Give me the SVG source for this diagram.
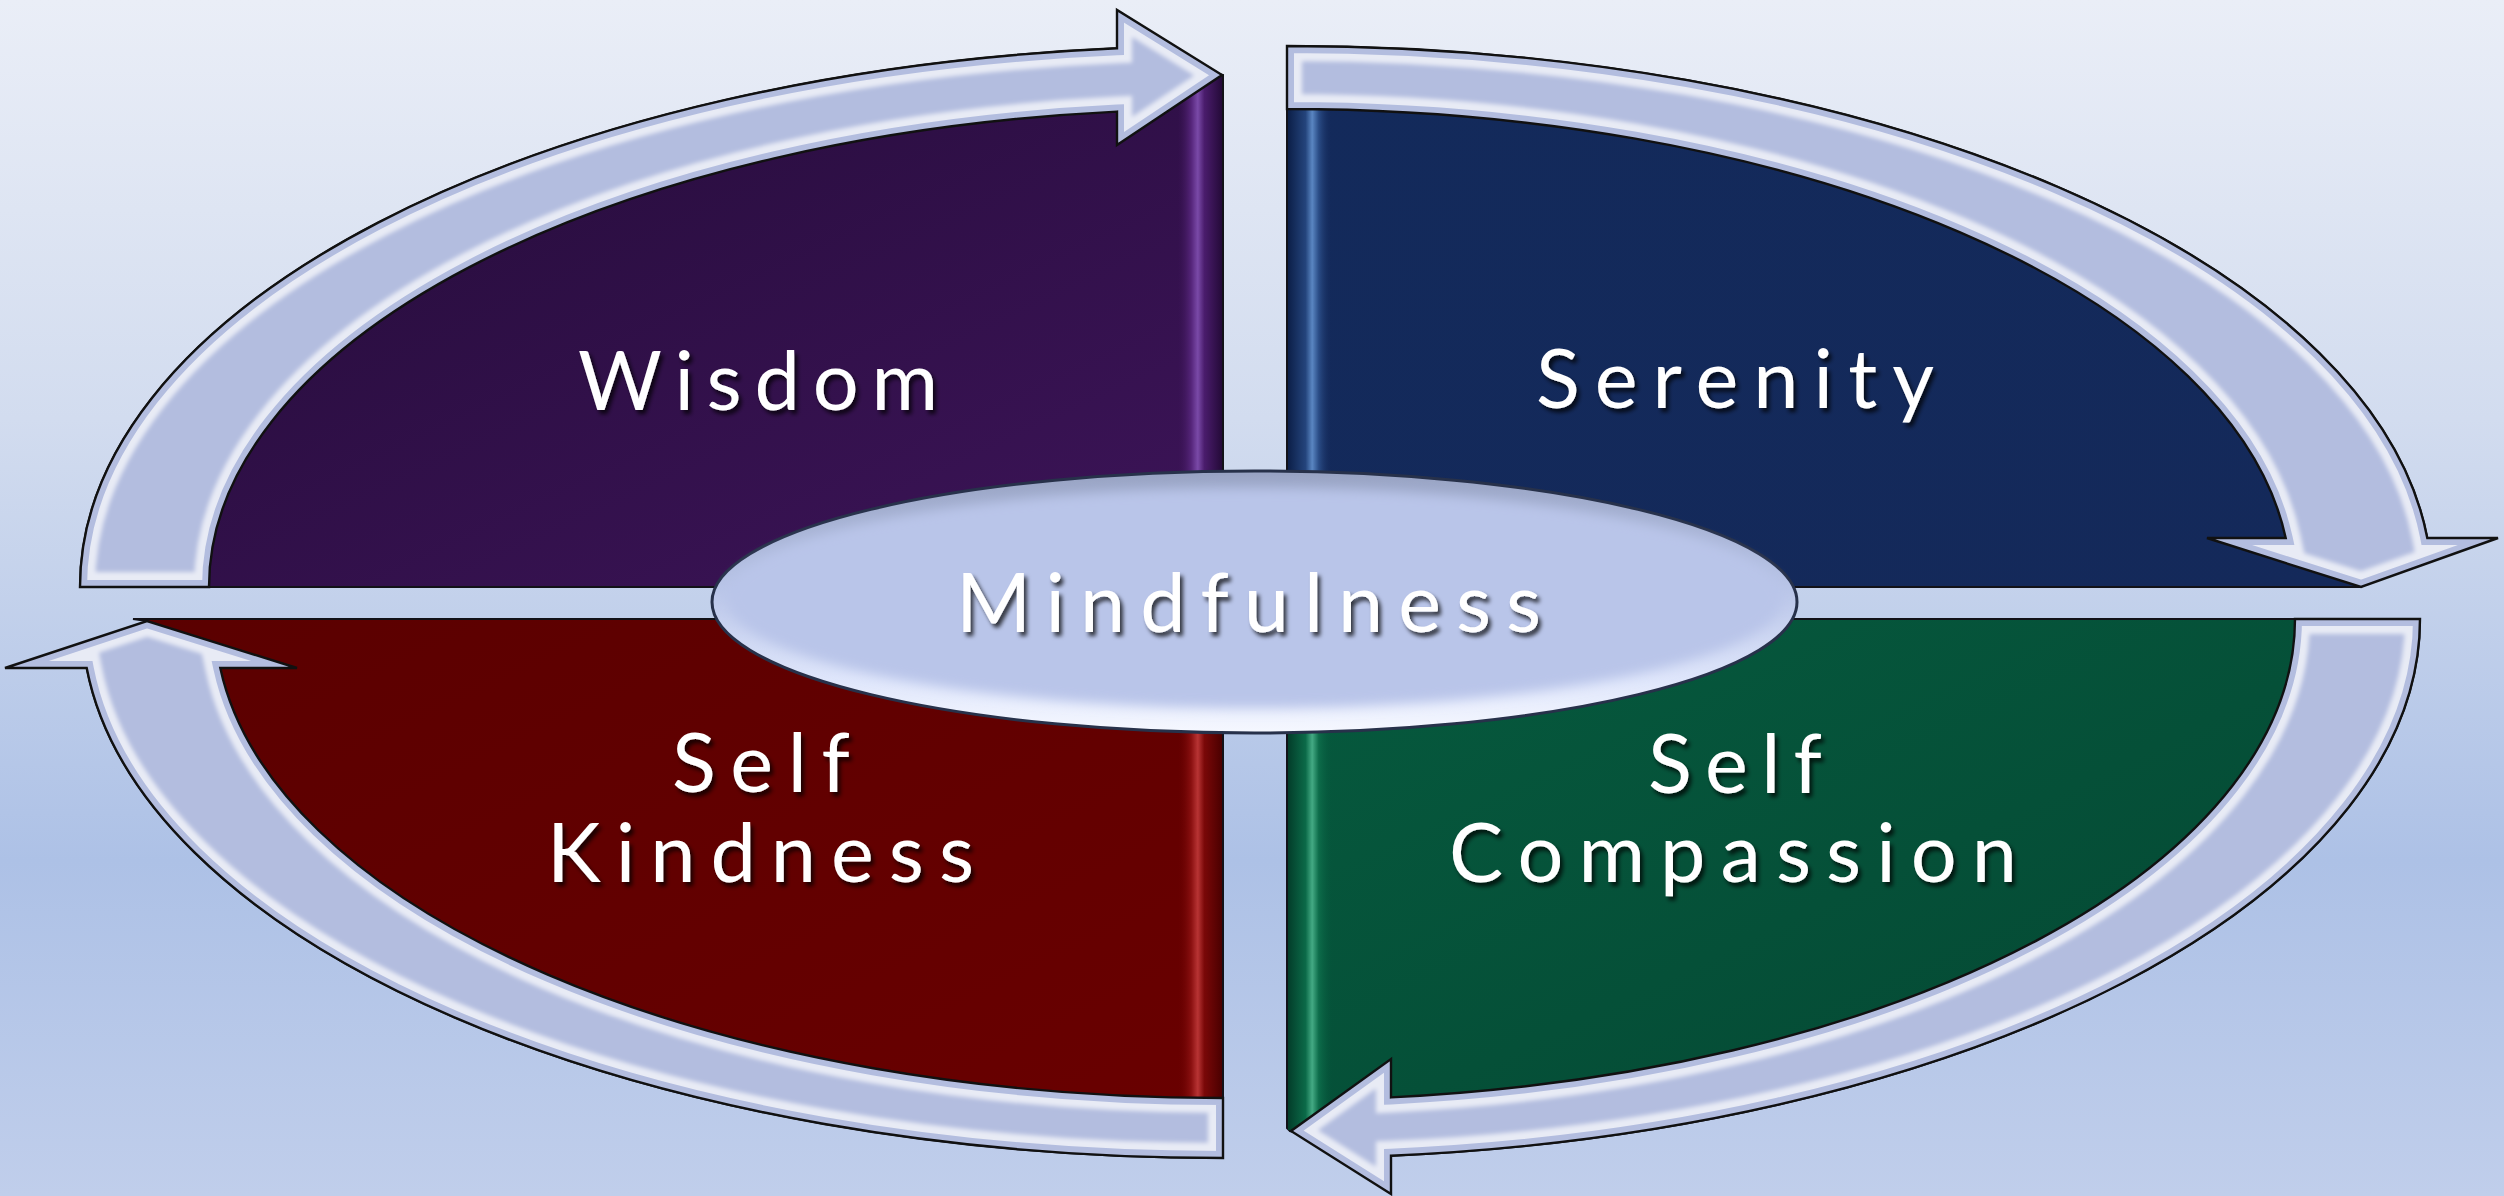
<svg xmlns="http://www.w3.org/2000/svg" xmlns:xlink="http://www.w3.org/1999/xlink" width="2504" height="1196" viewBox="0 0 2504 1196">
<style>
.lbl{font-family:Lato,"Open Sans","Liberation Sans",sans-serif;font-size:81px;fill:#ffffff;text-anchor:middle;filter:url(#tshadow)}
.band{fill:#b3bddf}
.bandline{fill:none;stroke:#111111;stroke-width:2.4;stroke-linejoin:miter}
.quad{stroke:#121218;stroke-width:2}
.hl{fill:none;stroke:#ffffff;stroke-opacity:.7;stroke-width:30}
.edge{fill:none;stroke:#b3bddf;stroke-width:14}
</style>
<defs>
<linearGradient id="bg" x1="0" y1="0" x2="0" y2="1">
<stop offset="0" stop-color="#eaeef7"/>
<stop offset="0.35" stop-color="#d2dcef"/>
<stop offset="0.72" stop-color="#adc1e6"/>
<stop offset="1" stop-color="#c0ceeb"/>
</linearGradient>
<linearGradient id="gPurple" x1="0" y1="0" x2="1" y2="1">
<stop offset="0" stop-color="#220b36"/>
<stop offset="1" stop-color="#3d1459"/>
</linearGradient>
<linearGradient id="gBlue" x1="0" y1="0" x2="1" y2="1">
<stop offset="0" stop-color="#132a5b"/>
<stop offset="1" stop-color="#14295a"/>
</linearGradient>
<linearGradient id="gRed" x1="0" y1="0" x2="1" y2="1">
<stop offset="0" stop-color="#5a0000"/>
<stop offset="1" stop-color="#6a0000"/>
</linearGradient>
<linearGradient id="gGreen" x1="0" y1="0" x2="1" y2="1">
<stop offset="0" stop-color="#065a3e"/>
<stop offset="1" stop-color="#044632"/>
</linearGradient>
<linearGradient id="sPurple" x1="0" y1="0" x2="1" y2="0">
<stop offset="0" stop-color="#3d1459" stop-opacity="0"/>
<stop offset="0.3" stop-color="#55257a"/>
<stop offset="0.45" stop-color="#7a4aa8"/>
<stop offset="0.6" stop-color="#4a1c6c"/>
<stop offset="1" stop-color="#240a38"/>
</linearGradient>
<linearGradient id="sRed" x1="0" y1="0" x2="1" y2="0">
<stop offset="0" stop-color="#6a0000" stop-opacity="0"/>
<stop offset="0.3" stop-color="#8a1010"/>
<stop offset="0.45" stop-color="#b83434"/>
<stop offset="0.6" stop-color="#7a0808"/>
<stop offset="1" stop-color="#4a0000"/>
</linearGradient>
<linearGradient id="sBlue" x1="0" y1="0" x2="1" y2="0">
<stop offset="0" stop-color="#0c1f48"/>
<stop offset="0.4" stop-color="#24447c"/>
<stop offset="0.55" stop-color="#5a86c2"/>
<stop offset="0.7" stop-color="#2a4c86"/>
<stop offset="1" stop-color="#14295a" stop-opacity="0"/>
</linearGradient>
<linearGradient id="sGreen" x1="0" y1="0" x2="1" y2="0">
<stop offset="0" stop-color="#033d2a"/>
<stop offset="0.4" stop-color="#0b6a48"/>
<stop offset="0.55" stop-color="#44aa84"/>
<stop offset="0.7" stop-color="#0d6c4a"/>
<stop offset="1" stop-color="#065a3e" stop-opacity="0"/>
</linearGradient>
<linearGradient id="ellRim" x1="0" y1="0" x2="0" y2="1">
<stop offset="0" stop-color="#98a3c3"/>
<stop offset="0.45" stop-color="#b9c5e8"/>
<stop offset="0.8" stop-color="#dfe6fb"/>
<stop offset="1" stop-color="#f6f8ff"/>
</linearGradient>
<filter id="tshadow" x="-10%" y="-20%" width="120%" height="150%">
<feDropShadow dx="3" dy="4" stdDeviation="2" flood-color="#000000" flood-opacity="0.75"/>
</filter>
<filter id="soft" x="-5%" y="-20%" width="110%" height="140%">
<feGaussianBlur stdDeviation="6"/>
</filter>
<filter id="blur2" x="-5%" y="-5%" width="110%" height="110%">
<feGaussianBlur stdDeviation="2"/>
</filter>
<path id="aTL" d="M80,587 A1143,541 0 0 1 1117,48.3 L1117,10 L1222,75 L1117,145 L1117,111.6 A1014,478 0 0 0 209,587 Z"/>
<path id="aTR" d="M1287,46 A1145,541 0 0 1 2427.3,538 L2498,538 L2361,587 L2207,538 L2285.7,538 A1004,478 0 0 0 1287,109 Z"/>
<path id="aBR" d="M2420,619 A1133,539 0 0 1 1391,1155.7 L1391,1194 L1291,1131 L1391,1059 L1391,1097.4 A1008,481 0 0 0 2295,619 Z"/>
<path id="aBL" d="M1223,1158 A1141,539 0 0 1 86.7,668 L5,668 L147,621 L297,668 L220.3,668 A1008,479 0 0 0 1223,1098 Z"/>
<clipPath id="cTL"><use xlink:href="#aTL"/></clipPath>
<clipPath id="cTR"><use xlink:href="#aTR"/></clipPath>
<clipPath id="cBR"><use xlink:href="#aBR"/></clipPath>
<clipPath id="cBL"><use xlink:href="#aBL"/></clipPath>
</defs>

<rect x="0" y="0" width="2504" height="1196" fill="url(#bg)"/>

<g id="wisdom">
<path class="quad" fill="url(#gPurple)" d="M80,587 A1143,541 0 0 1 1117,48.3 L1223,75 L1223,587 Z"/>
<rect x="1178" y="76" width="44" height="510" fill="url(#sPurple)"/>
<text class="lbl" x="758" y="410" textLength="360" lengthAdjust="spacing">Wisdom</text>
</g>

<g id="serenity">
<path class="quad" fill="url(#gBlue)" d="M1287,46 A1145,541 0 0 1 2427.3,538 L2361,587 L1287,587 Z"/>
<rect x="1288" y="100" width="44" height="486" fill="url(#sBlue)"/>
<text class="lbl" x="1735" y="408" textLength="398" lengthAdjust="spacing">Serenity</text>
</g>

<g id="self-compassion">
<path class="quad" fill="url(#gGreen)" d="M1287,619 L2420,619 A1133,539 0 0 1 1391,1155.7 L1290,1131 L1287,1128 Z"/>
<rect x="1288" y="620" width="44" height="510" fill="url(#sGreen)"/>
<text class="lbl" x="1735" y="793" textLength="174" lengthAdjust="spacing">Self</text>
<text class="lbl" x="1733" y="882" textLength="568" lengthAdjust="spacing">Compassion</text>
</g>

<g id="self-kindness">
<path class="quad" fill="url(#gRed)" d="M1223,619 L1223,1158 A1141,539 0 0 1 86.7,668 L147,621 L133,619 Z"/>
<rect x="1178" y="620" width="44" height="480" fill="url(#sRed)"/>
<text class="lbl" x="761" y="792" textLength="178" lengthAdjust="spacing">Self</text>
<text class="lbl" x="760.5" y="882" textLength="427" lengthAdjust="spacing">Kindness</text>
</g>

<g id="connectors">
<g id="arrow-tl">
<use xlink:href="#aTL" class="band"/>
<g clip-path="url(#cTL)"><use xlink:href="#aTL" class="hl" filter="url(#blur2)"/><use xlink:href="#aTL" class="edge"/></g>
<use xlink:href="#aTL" class="bandline"/>
</g>
<g id="arrow-tr">
<use xlink:href="#aTR" class="band"/>
<g clip-path="url(#cTR)"><use xlink:href="#aTR" class="hl" filter="url(#blur2)"/><use xlink:href="#aTR" class="edge"/></g>
<use xlink:href="#aTR" class="bandline"/>
</g>
<g id="arrow-br">
<use xlink:href="#aBR" class="band"/>
<g clip-path="url(#cBR)"><use xlink:href="#aBR" class="hl" filter="url(#blur2)"/><use xlink:href="#aBR" class="edge"/></g>
<use xlink:href="#aBR" class="bandline"/>
</g>
<g id="arrow-bl">
<use xlink:href="#aBL" class="band"/>
<g clip-path="url(#cBL)"><use xlink:href="#aBL" class="hl" filter="url(#blur2)"/><use xlink:href="#aBL" class="edge"/></g>
<use xlink:href="#aBL" class="bandline"/>
</g>
</g>

<g id="mindfulness">
<ellipse cx="1254.5" cy="602" rx="542.5" ry="131" fill="url(#ellRim)" stroke="#27314a" stroke-width="3"/>
<ellipse cx="1254.5" cy="598" rx="528" ry="110" fill="#b9c5e9" filter="url(#soft)"/>
<text class="lbl" x="1248.5" y="632" textLength="585" lengthAdjust="spacing">Mindfulness</text>
</g>
</svg>
